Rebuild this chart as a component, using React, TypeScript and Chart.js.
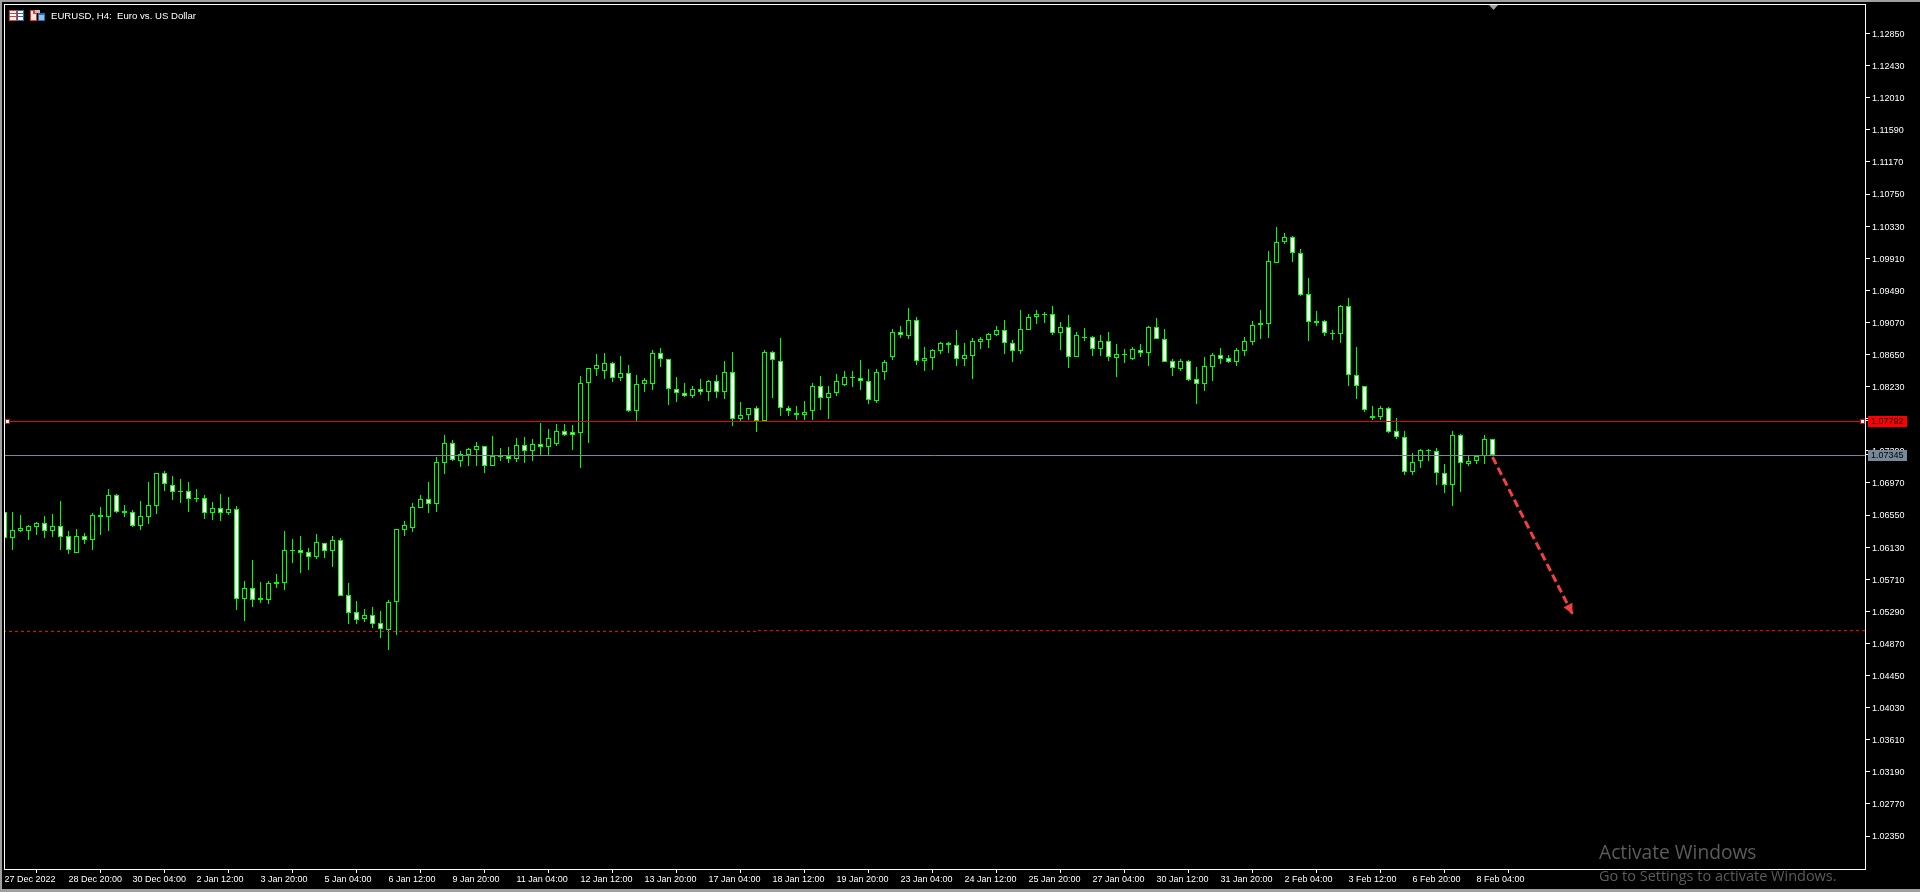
import React, { useEffect, useRef } from "react";
import { Chart, registerables } from "chart.js";

Chart.register(...registerables);

const highs = [
  1.06585,1.06585,1.0655,1.06415,1.06459,1.06537,1.06563,1.06734,1.06337,1.06367,
  1.06315,1.06572,1.06651,1.0689,1.06825,1.06681,1.06611,1.06734,1.06982,1.07095,
  1.07126,1.07061,1.07017,1.06982,1.0689,1.06808,1.06716,1.06825,1.06781,1.06668,
  1.05683,1.05962,1.0567,1.05683,1.05779,1.06337,1.06232,1.06276,1.06119,1.06302,
  1.0618,1.06276,1.0625,1.05661,1.05426,1.05321,1.05347,1.05295,1.05439,1.06363,
  1.06468,1.06703,1.06812,1.06982,1.07305,1.07597,1.07531,1.07383,1.07427,1.07501,
  1.07449,1.07584,1.07427,1.0744,1.07558,1.07571,1.0754,1.07754,1.07675,1.07741,
  1.07741,1.07723,1.08369,1.08469,1.08656,1.08669,1.08547,1.0863,1.08508,1.08377,
  1.08338,1.08709,1.08735,1.08587,1.08355,1.08277,1.08233,1.08325,1.08312,1.08382,
  1.08565,1.08682,1.08028,1.07946,1.07976,1.08709,1.08691,1.08866,1.07976,1.07976,
  1.08042,1.08273,1.08369,1.08238,1.0839,1.08434,1.08434,1.08573,1.08456,1.08456,
  1.08578,1.0898,1.09023,1.09259,1.09136,1.08748,1.08718,1.08809,1.08809,1.08966,
  1.08796,1.08862,1.08875,1.08927,1.09019,1.09097,1.08836,1.09232,1.0918,1.09232,
  1.09206,1.09285,1.09071,1.09163,1.0894,1.08997,1.08888,1.08901,1.08945,1.08783,
  1.08718,1.08744,1.08783,1.09019,1.09128,1.0898,1.08587,1.08587,1.08574,1.08482,
  1.08613,1.08666,1.08731,1.08639,1.08731,1.08875,1.09084,1.09232,1.1,1.10314,
  1.10236,1.10197,1.10027,1.09647,1.09216,1.09098,1.08967,1.09294,1.09386,1.08749,
  1.08235,1.07977,1.07977,1.07964,1.07816,1.0765,1.07358,1.07411,1.07411,1.07424,
  1.07214,1.07646,1.07611,1.07332,1.07332,1.07598,1.07541,
];

const lows = [
  1.06254,1.06093,1.06332,1.06223,1.06289,1.0625,1.06263,1.06093,1.0604,1.06058,
  1.06171,1.06093,1.06289,1.06341,1.06577,1.06524,1.06393,1.06354,1.06433,1.06563,
  1.06864,1.06747,1.06707,1.0659,1.0672,1.06498,1.06485,1.06472,1.0655,1.05308,
  1.05164,1.05347,1.05399,1.05386,1.05596,1.05569,1.05923,1.05792,1.05831,1.05975,
  1.05988,1.0587,1.05495,1.05125,1.05125,1.05151,1.05072,1.04942,1.04785,1.04981,
  1.06276,1.06328,1.06646,1.06577,1.0659,1.07087,1.07257,1.07178,1.07191,1.07191,
  1.071,1.07196,1.07257,1.07231,1.07244,1.07231,1.07257,1.07335,1.07335,1.07453,
  1.07584,1.07401,1.07165,1.07492,1.08369,1.08329,1.0829,1.08303,1.07898,1.0778,
  1.08159,1.08185,1.08486,1.07989,1.08028,1.08094,1.08081,1.0812,1.08042,1.08081,
  1.08068,1.07715,1.0778,1.07793,1.07636,1.0778,1.08081,1.07845,1.07845,1.07793,
  1.07793,1.07793,1.07924,1.07806,1.08107,1.08238,1.08225,1.08185,1.08002,1.08015,
  1.08317,1.08578,1.08866,1.08853,1.08513,1.08435,1.08448,1.08657,1.0867,1.085,
  1.085,1.0833,1.08718,1.08735,1.08892,1.08657,1.08552,1.08657,1.08975,1.09049,
  1.09062,1.08905,1.08709,1.08474,1.08622,1.08827,1.08631,1.08631,1.08565,1.08356,
  1.08539,1.08578,1.08618,1.085,1.08849,1.08557,1.08369,1.08435,1.08304,1.08003,
  1.08173,1.08304,1.08526,1.08539,1.085,1.08631,1.08775,1.08853,1.08867,1.09843,
  1.10101,1.09865,1.0942,1.08828,1.09028,1.08897,1.08841,1.08801,1.08239,1.08069,
  1.07899,1.07794,1.07794,1.07624,1.07546,1.07075,1.07075,1.07166,1.07258,1.06944,
  1.06839,1.06669,1.06852,1.07193,1.07219,1.07219,1.07332,
];

const opens = [
  1.06585,1.06254,1.06345,1.06345,1.06398,1.06441,1.06345,1.06402,1.06271,1.06058,
  1.06271,1.06228,1.06529,1.06529,1.06808,1.06581,1.06585,1.06411,1.06529,1.06672,
  1.07095,1.06938,1.06856,1.0686,1.0676,1.06768,1.06581,1.06638,1.06581,1.06625,
  1.05456,1.05591,1.05443,1.05443,1.05652,1.05665,1.06084,1.06088,1.06062,1.06005,
  1.0618,1.06084,1.06219,1.055,1.05277,1.05194,1.05238,1.05133,1.05051,1.05408,
  1.06359,1.06385,1.06646,1.06755,1.06699,1.07235,1.07488,1.07261,1.07335,1.07405,
  1.07449,1.07196,1.07309,1.07322,1.07287,1.07462,1.07392,1.07475,1.07444,1.07483,
  1.07645,1.07632,1.07627,1.08273,1.08464,1.08438,1.08534,1.08347,1.08403,1.07915,
  1.0826,1.08268,1.08665,1.08587,1.08194,1.08142,1.08111,1.08194,1.08155,1.08299,
  1.08155,1.08416,1.07802,1.07863,1.07946,1.0778,1.08678,1.0856,1.07946,1.07889,
  1.07863,1.07906,1.08233,1.08076,1.08142,1.08255,1.08338,1.08338,1.08299,1.08042,
  1.08417,1.08622,1.0894,1.08897,1.09097,1.0857,1.08609,1.087,1.08796,1.0877,
  1.08596,1.08635,1.08818,1.08844,1.0891,1.08966,1.08796,1.087,1.08975,1.09145,
  1.09171,1.09176,1.08936,1.09006,1.08622,1.08866,1.08875,1.08718,1.08823,1.08609,
  1.08648,1.08596,1.08714,1.08674,1.09006,1.08849,1.08561,1.08465,1.08561,1.08326,
  1.08269,1.08491,1.08639,1.086,1.08557,1.087,1.08818,1.09032,1.09054,1.09843,
  1.10118,1.10183,1.09974,1.09438,1.09067,1.09085,1.08923,1.08923,1.09281,1.08378,
  1.08235,1.07816,1.07838,1.07947,1.07646,1.07567,1.0711,1.07254,1.07384,1.07384,
  1.07097,1.0694,1.07594,1.07214,1.07254,1.07319,1.07541,
];

const closes = [
  1.06254,1.0635,1.06376,1.06402,1.06441,1.06345,1.06402,1.06267,1.06097,1.06271,
  1.06228,1.06546,1.06546,1.06808,1.06594,1.06598,1.06411,1.06533,1.06677,1.07095,
  1.0696,1.06856,1.06864,1.06764,1.06768,1.06581,1.06638,1.06581,1.06625,1.05456,
  1.05591,1.05443,1.05465,1.05657,1.0567,1.06088,1.06093,1.06058,1.06005,1.06193,
  1.06084,1.06219,1.05495,1.05273,1.05181,1.05238,1.05129,1.05055,1.05408,1.06363,
  1.06415,1.06651,1.06755,1.06699,1.07239,1.07488,1.07274,1.07344,1.07409,1.07449,
  1.07196,1.07322,1.07322,1.07287,1.07462,1.07392,1.07475,1.07444,1.07553,1.07645,
  1.07601,1.07601,1.08273,1.08469,1.08508,1.08534,1.08347,1.08403,1.07915,1.0826,
  1.08312,1.08665,1.08587,1.08194,1.08142,1.08111,1.08194,1.08155,1.08299,1.08155,
  1.08416,1.07802,1.07854,1.07946,1.0778,1.08678,1.08573,1.07946,1.07915,1.07854,
  1.07893,1.08233,1.08076,1.08142,1.08299,1.08351,1.08351,1.08299,1.0805,1.08416,
  1.08548,1.0894,1.08901,1.09097,1.0857,1.08609,1.08705,1.08796,1.0877,1.08587,
  1.08639,1.08823,1.08849,1.08914,1.08966,1.08796,1.087,1.0898,1.09136,1.09176,
  1.0918,1.08936,1.09006,1.08622,1.08901,1.08875,1.08718,1.08823,1.08613,1.08653,
  1.08657,1.08718,1.08674,1.09006,1.08849,1.08557,1.08478,1.08561,1.08321,1.08269,
  1.08496,1.08639,1.08587,1.08557,1.08705,1.08823,1.09032,1.09058,1.0987,1.10118,
  1.10183,1.09974,1.09434,1.09072,1.09085,1.08928,1.08932,1.09281,1.08378,1.08235,
  1.07921,1.07842,1.07947,1.07642,1.07567,1.0711,1.0724,1.07397,1.07397,1.07097,
  1.0694,1.07594,1.07227,1.07254,1.07319,1.07541,1.07332,
];

const timeLabels = [
  "27 Dec 2022","28 Dec 20:00","30 Dec 04:00","2 Jan 12:00","3 Jan 20:00","5 Jan 04:00",
  "6 Jan 12:00","9 Jan 20:00","11 Jan 04:00","12 Jan 12:00","13 Jan 20:00","17 Jan 04:00",
  "18 Jan 12:00","19 Jan 20:00","23 Jan 04:00","24 Jan 12:00","25 Jan 20:00","27 Jan 04:00",
  "30 Jan 12:00","31 Jan 20:00","2 Feb 04:00","3 Feb 12:00","6 Feb 20:00","8 Feb 04:00",
];
const timeTickIndexes = [
  0,8,16,24,32,40,48,56,64,72,80,88,96,104,112,120,128,136,144,152,160,168,176,184,
];
const priceTicks = [
  1.1285,1.1243,1.1201,1.1159,1.1117,1.1075,1.1033,1.0991,1.0949,1.0907,1.0865,1.0823,1.0781,
  1.0739,1.0697,1.0655,1.0613,1.0571,1.0529,1.0487,1.0445,1.0403,1.0361,1.0319,1.0277,1.0235,
];

const TITLE = "EURUSD, H4:  Euro vs. US Dollar";
const askLabel = "1.07792";
const bidLabel = "1.07345";
const askLine = 1.07773;
const bidLine = 1.07329;
const supportXs = [-0.06, 94.2, 201.6, 232.56];
const supportYs = [1.05013, 1.05026, 1.05039, 1.05039];
const arrowXs = [186, 196];
const arrowYs = [1.07309, 1.05255];

const GREEN = "#00ff00";
const FONT = '"Liberation Sans", sans-serif';
const X_MIN = -0.0625;
const X_MAX = 232.5625;
const Y_MAX = 1.13236;
const Y_MIN = 1.019183;

const pixelSnap = {
  id: "pixelSnap",
  afterDatasetsUpdate(chart: any) {
    chart.data.datasets.forEach((ds: any, i: number) => {
      const meta = chart.getDatasetMeta(i);
      if (ds.type === "bar") {
        meta.data.forEach((el: any) => {
          const a = Math.round(el.y);
          let b = Math.round(el.base);
          if (a === b) b = a + 1;
          el.y = a;
          el.base = b;
          el.height = Math.abs(b - a);
        });
      } else if (ds.snap) {
        meta.data.forEach((el: any) => {
          el.y = Math.floor(el.y) + 0.5;
        });
      }
    });
  },
};

const decorations = {
  id: "decorations",
  beforeDraw(chart: any) {
    const { ctx, width, height } = chart;
    ctx.save();
    ctx.fillStyle = "#000000";
    ctx.fillRect(0, 0, width, height);
    ctx.fillStyle = "#a0a0a0";
    ctx.fillRect(0, 0, width, 2);
    ctx.fillRect(0, 0, 2, height);
    ctx.fillRect(0, height - 3, width, 3);
    ctx.restore();
  },
  afterDraw(chart: any) {
    const { ctx } = chart;
    const { left, right, top, bottom } = chart.chartArea;
    const yScale = chart.scales.y;
    const xScale = chart.scales.x;
    ctx.save();

    // frame
    ctx.fillStyle = "#ffffff";
    ctx.fillRect(left, top, right - left + 1, 1);
    ctx.fillRect(left, bottom, right - left + 1, 1);
    ctx.fillRect(left, top, 1, bottom - top);
    ctx.fillRect(right, top, 1, bottom - top + 1);

    // chart-shift marker
    ctx.fillStyle = "#a0a0a0";
    ctx.beginPath();
    ctx.moveTo(1489, 5);
    ctx.lineTo(1498, 5);
    ctx.lineTo(1493.5, 10);
    ctx.closePath();
    ctx.fill();

    // title
    ctx.fillStyle = "#ffffff";
    ctx.font = `9.6px ${FONT}`;
    ctx.textAlign = "left";
    ctx.textBaseline = "middle";
    ctx.fillText(TITLE, 51, 16);

    // icons
    const rect = (c: string, x: number, y: number, w: number, h: number) => {
      ctx.fillStyle = c;
      ctx.fillRect(x, y, w, h);
    };
    rect("#e8392c", 9, 10, 8, 11);
    rect("#ffffff", 10, 11, 6, 9);
    rect("#e8392c", 10, 13, 6, 1);
    rect("#e8392c", 10, 16, 6, 1);
    rect("#1c6fb8", 17, 10, 7, 11);
    rect("#ffffff", 18, 11, 5, 9);
    rect("#1c6fb8", 18, 13, 5, 1);
    rect("#1c6fb8", 18, 16, 5, 1);
    rect("#e8392c", 30, 10, 7, 11);
    rect("#ffe4e0", 31, 14, 5, 6);
    rect("#ffffff", 31, 11, 2, 3);
    rect("#c0c0c0", 35, 10, 5, 3);
    rect("#1c6fb8", 38, 13, 7, 8);
    rect("#8cc4ec", 39, 15, 5, 5);

    // price-line handles and labels
    const askY = Math.floor(yScale.getPixelForValue(askLine));
    const bidY = Math.floor(yScale.getPixelForValue(bidLine));
    [5, right - 5].forEach((x: number) => {
      rect("#e00000", x, askY - 2, 5, 5);
      rect("#ffffff", x + 1, askY - 1, 3, 3);
    });
    rect("#ffffff", right, askY - 1, 3, 1);
    rect("#ffffff", right, bidY - 1, 3, 1);
    rect("#ff0000", 1868, askY - 5, 39, 11);
    rect("#778899", 1868, bidY - 5, 39, 11);
    ctx.fillStyle = "#000000";
    ctx.font = `9px ${FONT}`;
    ctx.fillText(askLabel, 1871, askY + 1);
    ctx.fillText(bidLabel, 1871, bidY + 1);

    // arrow head
    const tipX = xScale.getPixelForValue(arrowXs[1]);
    const tipY = yScale.getPixelForValue(arrowYs[1]);
    const dx = tipX - xScale.getPixelForValue(arrowXs[0]);
    const dy = tipY - yScale.getPixelForValue(arrowYs[0]);
    const len = Math.hypot(dx, dy);
    const ux = dx / len;
    const uy = dy / len;
    const baseX = tipX - ux * 10;
    const baseY = tipY - uy * 10;
    ctx.fillStyle = "#f04040";
    ctx.beginPath();
    ctx.moveTo(tipX, tipY);
    ctx.lineTo(baseX + uy * 5, baseY - ux * 5);
    ctx.lineTo(baseX - uy * 5, baseY + ux * 5);
    ctx.closePath();
    ctx.fill();

    // watermark
    ctx.fillStyle = "#5c5c5c";
    ctx.font = '19.2px "Open Sans", sans-serif';
    ctx.fillText("Activate Windows", 1599, 854);
    ctx.font = '14.5px "Open Sans", sans-serif';
    ctx.fillText("Go to Settings to activate Windows.", 1599, 877);
    ctx.restore();
  },
};

const fitAxis = (prop: "width" | "height", size: number) => (s: any) => {
  s[prop] = size;
  s.paddingTop = 0;
  s.paddingBottom = 0;
  s.paddingLeft = 0;
  s.paddingRight = 0;
};

export default function App() {
  const canvasRef = useRef<HTMLCanvasElement | null>(null);

  useEffect(() => {
    if (!canvasRef.current) return;
    const chart = new Chart(canvasRef.current, {
      type: "bar",
      plugins: [pixelSnap, decorations],
      data: {
        datasets: [
          {
            type: "line",
            snap: false,
            data: arrowXs.map((x, i) => ({ x, y: arrowYs[i] })),
            borderColor: "#f04040",
            borderWidth: 3,
            borderDash: [8, 4],
            pointRadius: 0,
            order: 0,
          },
          {
            type: "line",
            snap: true,
            data: [
              { x: X_MIN, y: askLine },
              { x: X_MAX, y: askLine },
            ],
            borderColor: "#f00000",
            borderWidth: 1,
            pointRadius: 0,
            order: 1,
          },
          {
            type: "line",
            snap: true,
            data: [
              { x: X_MIN, y: bidLine },
              { x: X_MAX, y: bidLine },
            ],
            borderColor: "#778899",
            borderWidth: 1,
            pointRadius: 0,
            order: 1,
          },
          {
            type: "line",
            snap: true,
            stepped: "after",
            data: supportXs.map((x, i) => ({ x, y: supportYs[i] })),
            borderColor: "#ff0000",
            borderWidth: 1,
            borderDash: [3, 3],
            pointRadius: 0,
            order: 1,
          },
          {
            type: "bar",
            data: opens.map((o, i) => ({ x: i, y: [o, closes[i]] })),
            backgroundColor: opens.map((o, i) => (closes[i] >= o ? "#000000" : "#ffffff")),
            borderColor: GREEN,
            borderWidth: 1,
            borderSkipped: false,
            inflateAmount: 0,
            barThickness: 5,
            grouped: false,
            order: 2,
          },
          {
            type: "bar",
            data: lows.map((l, i) => ({ x: i, y: [l, highs[i]] })),
            backgroundColor: GREEN,
            borderWidth: 0,
            inflateAmount: 0,
            barThickness: 1,
            grouped: false,
            order: 3,
          },
        ],
      } as any,
      options: {
        animation: false,
        responsive: false,
        maintainAspectRatio: false,
        devicePixelRatio: 1,
        layout: { padding: { left: 4, top: 4, right: 0, bottom: 0 } },
        plugins: {
          legend: { display: false },
          title: { display: false },
          tooltip: { enabled: false },
        },
        scales: {
          x: {
            type: "linear",
            min: X_MIN,
            max: X_MAX,
            position: "bottom",
            offset: false,
            afterFit: fitAxis("height", 23),
            afterBuildTicks: (s: any) => {
              s.ticks = timeTickIndexes.map((value) => ({ value }));
            },
            grid: { drawOnChartArea: false, tickLength: 4, color: "#ffffff", tickColor: "#ffffff" },
            border: { display: false },
            ticks: {
              autoSkip: false,
              maxRotation: 0,
              minRotation: 0,
              align: "start",
              padding: 1,
              color: "#ffffff",
              font: { family: FONT, size: 9 },
              callback: (v: any) => timeLabels[timeTickIndexes.indexOf(Number(v))] ?? "",
            },
          },
          y: {
            type: "linear",
            min: Y_MIN,
            max: Y_MAX,
            position: "right",
            afterFit: fitAxis("width", 55),
            afterBuildTicks: (s: any) => {
              s.ticks = priceTicks.map((value) => ({ value }));
            },
            grid: { drawOnChartArea: false, tickLength: 5, color: "#ffffff", tickColor: "#ffffff" },
            border: { display: false },
            ticks: {
              autoSkip: false,
              padding: 2,
              labelOffset: 1,
              color: "#ffffff",
              font: { family: FONT, size: 9 },
              callback: (v: any) => Number(v).toFixed(5),
            },
          },
        },
      } as any,
    });
    return () => chart.destroy();
  }, []);

  return (
    <canvas
      ref={canvasRef}
      width={1920}
      height={892}
      style={{ position: "fixed", left: 0, top: 0, width: 1920, height: 892, display: "block" }}
    />
  );
}
